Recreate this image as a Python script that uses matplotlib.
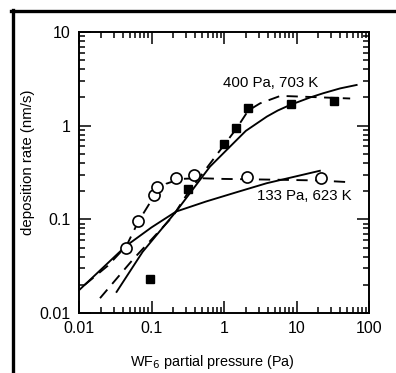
import matplotlib
matplotlib.use("Agg")
import matplotlib.pyplot as plt
from matplotlib.lines import Line2D
from matplotlib.ticker import LogLocator, NullFormatter

plt.rcParams['font.family'] = ['Liberation Sans', 'DejaVu Sans']

# Measured points
circ_x = [0.045, 0.066, 0.108, 0.12, 0.22, 0.38, 2.06, 22]
circ_y = [0.050, 0.096, 0.18, 0.22, 0.275, 0.30, 0.28, 0.275]

sq_x = [0.095, 0.315, 1.0, 1.47, 2.16, 8.3, 33]
sq_y = [0.023, 0.21, 0.64, 0.94, 1.56, 1.69, 1.85]

# Curves
s400_x = [0.033, 0.0755, 0.218, 0.64, 1.35, 2.0, 3.9, 5.5, 8.1, 15.4, 23.4, 40, 67.5]
s400_y = [0.0168, 0.045, 0.121, 0.365, 0.65, 0.88, 1.25, 1.45, 1.66, 2.0, 2.22, 2.5, 2.72]

d400_x = [0.0195, 0.055, 0.196, 0.315, 1.0, 1.47, 2.16, 3.14, 6.0, 17, 55]
d400_y = [0.0144, 0.037, 0.107, 0.19, 0.62, 0.92, 1.45, 1.73, 2.08, 2.02, 1.95]

s133_x = [0.01, 0.0445, 0.1, 0.218, 0.565, 1.5, 3.88, 21]
s133_y = [0.0175, 0.052, 0.082, 0.121, 0.155, 0.195, 0.243, 0.33]

d133_x = [0.012, 0.025, 0.045, 0.066, 0.11, 0.16, 0.25, 0.45, 1, 5, 20, 50]
d133_y = [0.02, 0.032, 0.052, 0.095, 0.18, 0.24, 0.27, 0.275, 0.27, 0.265, 0.26, 0.25]

xticks = [0.01, 0.1, 1, 10, 100]
xticklabels = ["0.01", "0.1", "1", "10", "100"]
yticks = [0.01, 0.1, 1, 10]
yticklabels = ["0.01", "0.1", "1", "10"]

W, H = 396, 373
fig = plt.figure(figsize=(W / 100, H / 100), dpi=100)
ax = fig.add_axes([79 / W, 1 - 313 / H, (369 - 79) / W, (313 - 32) / H])

lw = 1.35
dash = (0, (6, 4))
ax.plot(s400_x, s400_y, color='black', lw=lw)
ax.plot(d400_x, d400_y, color='black', lw=lw, linestyle=dash)
ax.plot(s133_x, s133_y, color='black', lw=lw)
ax.plot(d133_x, d133_y, color='black', lw=lw, linestyle=dash)

ax.plot(circ_x, circ_y, linestyle='none', marker='o', markersize=8,
        markerfacecolor='white', markeredgecolor='black', markeredgewidth=1.2, zorder=3)
ax.plot(sq_x, sq_y, linestyle='none', marker='s', markersize=5.5,
        markerfacecolor='black', markeredgecolor='black', zorder=3)

ax.set_xscale('log')
ax.set_yscale('log')
ax.set_xlim(0.01, 100)
ax.set_ylim(0.01, 10)
ax.set_xticks(xticks)
ax.set_xticklabels(xticklabels)
ax.set_yticks(yticks)
ax.set_yticklabels(yticklabels)
ax.xaxis.set_minor_locator(LogLocator(base=10, subs=range(2, 10)))
ax.yaxis.set_minor_locator(LogLocator(base=10, subs=range(2, 10)))
ax.xaxis.set_minor_formatter(NullFormatter())
ax.yaxis.set_minor_formatter(NullFormatter())
ax.tick_params(which='both', direction='in', top=True, right=True, width=1.1,
               labelsize=11.5, pad=6)
ax.tick_params(which='major', length=8.5)
ax.tick_params(which='minor', length=4.3)
for sp in ax.spines.values():
    sp.set_linewidth(1.4)

ax.set_xlabel("WF$_6$ partial pressure (Pa)", fontsize=10.4)
ax.set_ylabel("deposition rate (nm/s)", fontsize=10.8)
ax.xaxis.set_label_coords((212 - 79) / (369 - 79), -(362 - 313) / (313 - 32),
                          transform=ax.transAxes)
ax.yaxis.set_label_coords(-(79 - 28) / (369 - 79), (313 - 162) / (313 - 32),
                          transform=ax.transAxes)
ax.xaxis.label.set_va('center')
ax.yaxis.label.set_va('center')

fig.text(271 / W, 1 - 83 / H, "400 Pa, 703 K", ha='center', va='center', fontsize=10.8)
fig.text(304 / W, 1 - 196 / H, "133 Pa, 623 K", ha='center', va='center', fontsize=10.8)

# outer frame (top and left)
fig.add_artist(Line2D([12.5 / W, 12.5 / W], [0, 1 - 10 / H], transform=fig.transFigure,
                      color='black', lw=2.4))
fig.add_artist(Line2D([11 / W, 1], [1 - 11 / H, 1 - 11 / H], transform=fig.transFigure,
                      color='black', lw=2.4))

fig.savefig("out.png", dpi=100)
